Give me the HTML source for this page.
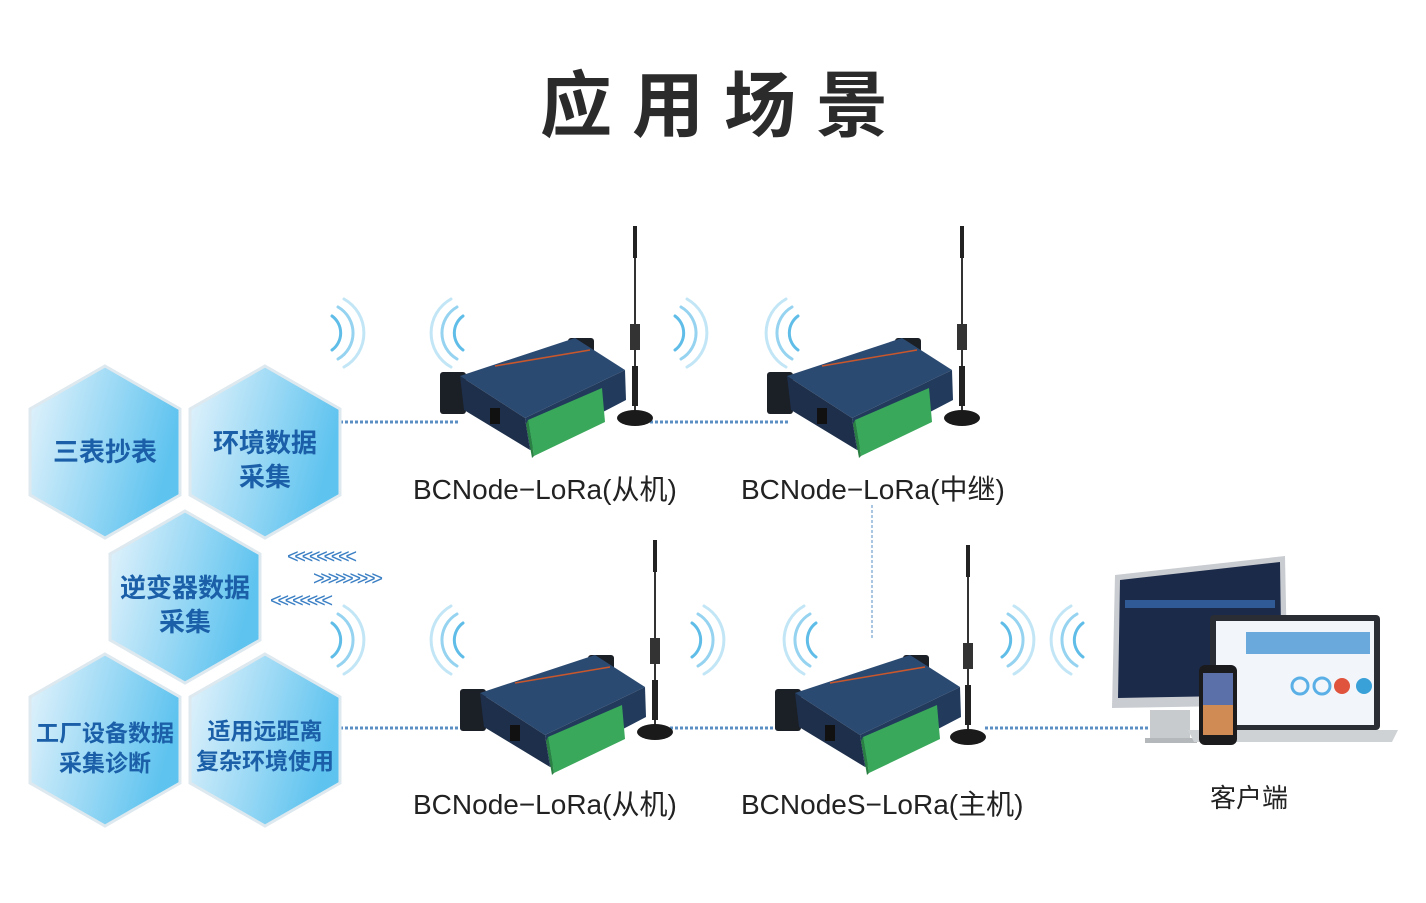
<!DOCTYPE html>
<html><head><meta charset="utf-8"><style>
body{margin:0;background:#fff;width:1426px;height:903px;overflow:hidden;position:relative;font-family:"Liberation Sans","Noto Sans CJK SC",sans-serif}
.t{position:absolute;white-space:nowrap}
.lbl{font-size:28px;color:#222}
.hx{position:absolute;color:#1a5fa8;font-weight:bold;text-align:center;font-family:"Noto Sans CJK SC",sans-serif}
</style></head><body>
<svg width="1426" height="903" style="position:absolute;left:0;top:0">
<defs>
<linearGradient id="hg" x1="0" y1="0" x2="1" y2="0.3"><stop offset="0" stop-color="#e6f4fc"/><stop offset="1" stop-color="#5ec3ef"/></linearGradient>
<g id="hex"><polygon points="0,-86 75,-43 75,43 0,86 -75,43 -75,-43" fill="url(#hg)" stroke="#dde8ef" stroke-width="3"/></g>
<g id="wifiR" fill="none" stroke="#4fb6e6" stroke-width="3" stroke-linecap="round">
<path d="M-8,-17 A21,21 0 0 1 -8,17" opacity=".9"/><path d="M-2,-26 A30,30 0 0 1 -2,26" opacity=".6"/><path d="M4,-34 A39,39 0 0 1 4,34" opacity=".35"/></g>
<g id="dev">
<rect x="0" y="34" width="26" height="42" rx="3" fill="#1b1f26"/>
<rect x="128" y="0" width="26" height="30" rx="3" fill="#1b1f26"/>
<polygon points="20,38 135,0 185,32 85,80" fill="#2b4a72"/>
<polygon points="20,38 85,80 90,112 24,72" fill="#1d2f4a"/>
<polygon points="85,80 185,32 186,62 90,112" fill="#223a5c"/>
<line x1="55" y1="28" x2="150" y2="12" stroke="#c9572c" stroke-width="1.5"/>
<polygon points="88,82 162,50 165,84 94,118" fill="#3aa85a"/>
<polygon points="88,82 94,118 92,120 86,86" fill="#2a7f42"/>
<rect x="50" y="70" width="10" height="16" fill="#111"/>
</g>
<g id="ant">
<line x1="0" y1="0" x2="0" y2="190" stroke="#333" stroke-width="2"/>
<rect x="-2" y="0" width="4" height="32" fill="#222"/>
<rect x="-5" y="98" width="10" height="26" fill="#333"/>
<rect x="-3" y="140" width="6" height="40" fill="#222"/>
<ellipse cx="0" cy="192" rx="18" ry="8" fill="#1a1a1a"/>
</g>
</defs>
<g stroke="#5b8fc4" stroke-width="3" stroke-dasharray="3,2">
<line x1="340" y1="422" x2="460" y2="422"/><line x1="640" y1="422" x2="790" y2="422"/>
<line x1="340" y1="728" x2="470" y2="728"/><line x1="660" y1="728" x2="790" y2="728"/>
<line x1="985" y1="728" x2="1190" y2="728"/>
</g>
<line x1="872" y1="505" x2="872" y2="640" stroke="#8fb4d6" stroke-width="1.5" stroke-dasharray="3,2"/>
<use href="#hex" x="105" y="452"/><use href="#hex" x="265" y="452"/>
<use href="#hex" x="185" y="597"/>
<use href="#hex" x="105" y="740"/><use href="#hex" x="265" y="740"/>
<use href="#wifiR" x="340" y="333"/>
<use href="#wifiR" x="455" y="333" transform="rotate(180 455 333)"/>
<use href="#wifiR" x="683" y="333"/>
<use href="#wifiR" x="790" y="333" transform="rotate(180 790 333)"/>
<use href="#wifiR" x="340" y="640"/>
<use href="#wifiR" x="455" y="640" transform="rotate(180 455 640)"/>
<use href="#wifiR" x="700" y="640"/>
<use href="#wifiR" x="808" y="640" transform="rotate(180 808 640)"/>
<use href="#wifiR" x="1010" y="640"/>
<use href="#wifiR" x="1075" y="640" transform="rotate(180 1075 640)"/>
<use href="#dev" x="440" y="338"/><use href="#ant" x="635" y="226"/>
<use href="#dev" x="767" y="338"/><use href="#ant" x="962" y="226"/>
<use href="#dev" x="460" y="655"/><use href="#ant" x="655" y="540"/>
<use href="#dev" x="775" y="655"/><use href="#ant" x="968" y="545"/>
<polygon points="1115,575 1285,556 1288,705 1112,708" fill="#c9ccd0"/>
<polygon points="1120,580 1280,562 1282,695 1118,698" fill="#1c2a4a"/>
<rect x="1125" y="600" width="150" height="8" fill="#2f5a95"/>
<rect x="1150" y="710" width="40" height="28" fill="#c8cbce"/>
<rect x="1145" y="738" width="52" height="5" fill="#b5b8bb"/>
<rect x="1210" y="615" width="170" height="115" rx="4" fill="#2a2d33"/>
<rect x="1216" y="621" width="158" height="104" fill="#f2f6fa"/>
<rect x="1246" y="632" width="124" height="22" fill="#6aa9dc"/>
<circle cx="1300" cy="686" r="8" fill="none" stroke="#5ab0e6" stroke-width="3"/>
<circle cx="1322" cy="686" r="8" fill="none" stroke="#5ab0e6" stroke-width="3"/>
<circle cx="1342" cy="686" r="8" fill="#e0533c"/>
<circle cx="1364" cy="686" r="8" fill="#39a0d8"/>
<polygon points="1188,730 1398,730 1392,742 1194,742" fill="#cfd2d5"/>
<rect x="1199" y="665" width="38" height="80" rx="6" fill="#1b1b1e"/>
<rect x="1203" y="673" width="30" height="62" fill="#5b6fa8"/>
<rect x="1203" y="705" width="30" height="30" fill="#d08b54"/>
<g font-size="20" fill="#3b7fc4" font-family="Liberation Sans" textLength="70">
<text x="287" y="563" textLength="70">&lt;&lt;&lt;&lt;&lt;&lt;&lt;&lt;&lt;</text>
<text x="313" y="585" textLength="70">&gt;&gt;&gt;&gt;&gt;&gt;&gt;&gt;&gt;</text>
<text x="270" y="607" textLength="63">&lt;&lt;&lt;&lt;&lt;&lt;&lt;&lt;</text>
</g>
</svg>
<div class="t" style="left:540px;top:55px;font-size:72px;font-weight:bold;color:#2b2b2b;letter-spacing:20px;font-family:'Noto Sans CJK SC',sans-serif;line-height:90px">应用场景</div>
<div class="hx" style="left:30px;top:434px;width:150px;font-size:26px;line-height:34px">三表抄表</div>
<div class="hx" style="left:190px;top:425px;width:150px;font-size:26px;line-height:34px">环境数据<br>采集</div>
<div class="hx" style="left:110px;top:570px;width:150px;font-size:26px;line-height:34px">逆变器数据<br>采集</div>
<div class="hx" style="left:30px;top:716px;width:150px;font-size:23px;line-height:30px">工厂设备数据<br>采集诊断</div>
<div class="hx" style="left:190px;top:714px;width:150px;font-size:23px;line-height:30px">适用远距离<br>复杂环境使用</div>
<div class="t lbl" style="left:413px;top:468px">BCNode−LoRa(从机)</div>
<div class="t lbl" style="left:741px;top:468px">BCNode−LoRa(中继)</div>
<div class="t lbl" style="left:413px;top:783px">BCNode−LoRa(从机)</div>
<div class="t lbl" style="left:741px;top:783px">BCNodeS−LoRa(主机)</div>
<div class="t lbl" style="left:1210px;top:778px;font-size:26px">客户端</div>
</body></html>
